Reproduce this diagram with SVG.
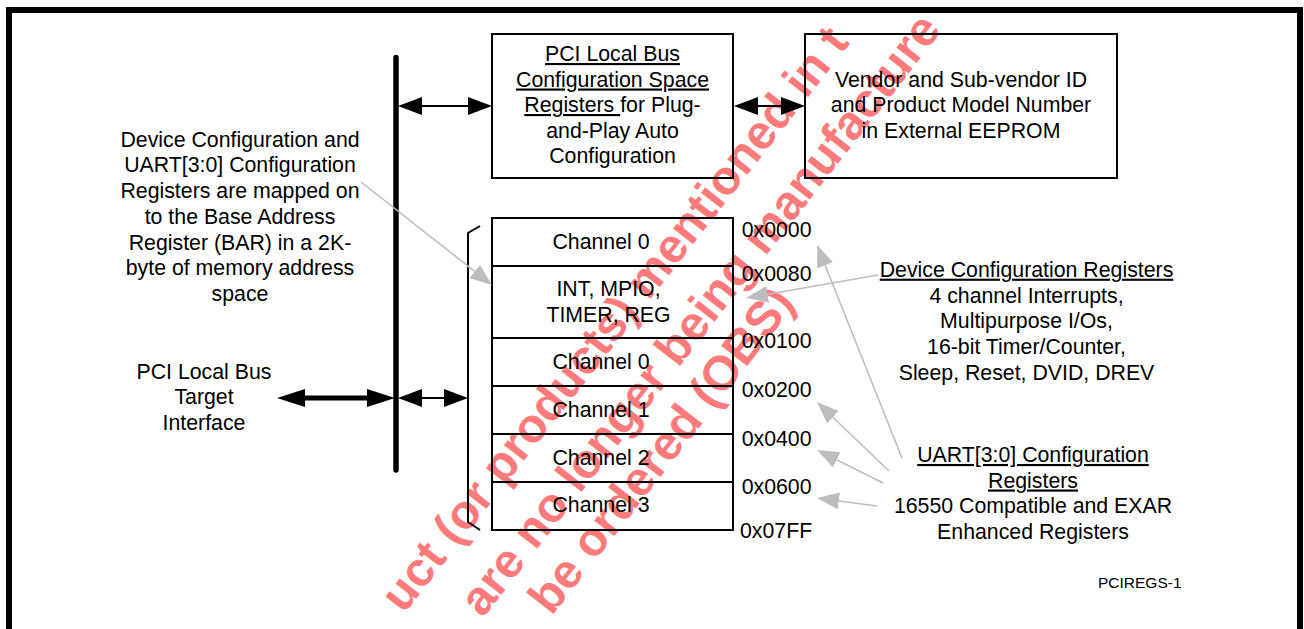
<svg xmlns="http://www.w3.org/2000/svg" width="1304" height="629" viewBox="0 0 1304 629">
<defs>
<style>
text{font-family:"Liberation Sans",Arial,sans-serif;font-size:21.3px;fill:#000}
.c{text-anchor:middle}
.u{text-decoration:underline}
.box{fill:none;stroke:#000;stroke-width:2}
.wm{font-weight:bold;font-size:48px;fill:#ff7b7b}
.blk{stroke:#000;stroke-width:2;fill:none}
.thk{stroke:#000;stroke-width:5;fill:none}
.gry{stroke:#bdbdbd;stroke-width:1.5;fill:none}
.small{font-size:15.5px}
</style>
<marker id="ah" markerUnits="userSpaceOnUse" orient="auto-start-reverse" markerWidth="24" markerHeight="18" viewBox="0 0 24 18" refX="0" refY="9"><path d="M0,0 L24,9 L0,18 z" fill="#000"/></marker>
<marker id="ahb" markerUnits="userSpaceOnUse" orient="auto-start-reverse" markerWidth="28" markerHeight="18" viewBox="0 0 28 18" refX="0" refY="9"><path d="M0,0 L28,9 L0,18 z" fill="#000"/></marker>
<marker id="gh" markerUnits="userSpaceOnUse" orient="auto" markerWidth="22" markerHeight="17" viewBox="0 0 22 17" refX="0" refY="8.5"><path d="M0,0 L22,8.5 L0,17 z" fill="#bdbdbd"/></marker>
</defs>
<rect width="1304" height="629" fill="#fff"/>
<g id="watermark">
<text class="wm" x="403.8" y="614.5" transform="rotate(-52 403.8 614.5)">uct (or products) mentioned in t</text>
<text class="wm" x="482.7" y="618.5" transform="rotate(-52 482.7 618.5)">are no longer being manufacture</text>
<text class="wm" x="551.5" y="616.4" transform="rotate(-52 551.5 616.4)">be ordered (OBS)</text>
</g>
<rect id="frame" x="9" y="10" width="1291" height="700" fill="none" stroke="#000" stroke-width="6"/>
<g id="bus">
<line x1="396" y1="57.5" x2="396" y2="470" stroke="#000" stroke-width="5.5" stroke-linecap="round"/>
</g>
<g id="pci-config">
<rect class="box" x="492" y="34" width="241" height="144"/>
<text class="c" x="612.5" y="61"><tspan class="u">PCI Local Bus</tspan></text>
<text class="c" x="612.5" y="86.5"><tspan class="u">Configuration Space</tspan></text>
<text class="c" x="612.5" y="112"><tspan class="u">Registers </tspan>for Plug-</text>
<text class="c" x="612.5" y="137.5">and-Play Auto</text>
<text class="c" x="612.5" y="163">Configuration</text>
</g>
<g id="vendor-eeprom">
<rect class="box" x="805" y="34" width="312" height="144"/>
<text class="c" x="961" y="86.5">Vendor and Sub-vendor ID</text>
<text class="c" x="961" y="112">and Product Model Number</text>
<text class="c" x="961" y="137.5">in External EEPROM</text>
</g>
<g id="bar-note">
<text class="c" x="240" y="146.7">Device Configuration and</text>
<text class="c" x="240" y="172.4">UART[3:0] Configuration</text>
<text class="c" x="240" y="198.1">Registers are mapped on</text>
<text class="c" x="240" y="223.8">to the Base Address</text>
<text class="c" x="240" y="249.5">Register (BAR) in a 2K-</text>
<text class="c" x="240" y="275.2">byte of memory address</text>
<text class="c" x="240" y="300.9">space</text>
</g>
<g id="pci-target">
<text class="c" x="204" y="378.7">PCI Local Bus</text>
<text class="c" x="204" y="404.4">Target</text>
<text class="c" x="204" y="430.1">Interface</text>
</g>
<g id="bracket">
<path class="blk" d="M480,226 L468,233 L468,522 L480,530"/>
</g>
<g id="reg-ch0-a"><rect class="box" x="492" y="218" width="241" height="48"/><text class="c" x="601" y="249.3">Channel 0</text></g>
<g id="reg-dev"><rect class="box" x="492" y="266" width="241" height="72"/><text class="c" x="608.5" y="295.7">INT, MPIO,</text><text class="c" x="608.5" y="321.7">TIMER, REG</text></g>
<g id="reg-ch0"><rect class="box" x="492" y="338" width="241" height="48"/><text class="c" x="601" y="369">Channel 0</text></g>
<g id="reg-ch1"><rect class="box" x="492" y="386" width="241" height="48"/><text class="c" x="601" y="416.7">Channel 1</text></g>
<g id="reg-ch2"><rect class="box" x="492" y="434" width="241" height="48"/><text class="c" x="601" y="465">Channel 2</text></g>
<g id="reg-ch3"><rect class="box" x="492" y="482" width="241" height="48"/><text class="c" x="601" y="512.3">Channel 3</text></g>
<g id="addresses">
<text x="741.7" y="236.7">0x0000</text>
<text x="741.7" y="281">0x0080</text>
<text x="741.7" y="348.3">0x0100</text>
<text x="741.7" y="397.3">0x0200</text>
<text x="741.7" y="445.7">0x0400</text>
<text x="741.7" y="494">0x0600</text>
<text x="740" y="538.3">0x07FF</text>
</g>
<g id="dev-cfg-regs">
<text class="c" x="1026.5" y="276.7"><tspan class="u">Device Configuration Registers</tspan></text>
<text class="c" x="1026.5" y="302.5">4 channel Interrupts,</text>
<text class="c" x="1026.5" y="328.3">Multipurpose I/Os,</text>
<text class="c" x="1026.5" y="354">16-bit Timer/Counter,</text>
<text class="c" x="1026.5" y="380">Sleep, Reset, DVID, DREV</text>
</g>
<g id="uart-cfg-regs">
<text class="c" x="1033" y="462"><tspan class="u">UART[3:0] Configuration</tspan></text>
<text class="c" x="1033" y="487.5"><tspan class="u">Registers</tspan></text>
<text class="c" x="1033" y="513">16550 Compatible and EXAR</text>
<text class="c" x="1033" y="538.5">Enhanced Registers</text>
</g>
<g id="fig-id">
<text class="small" x="1098" y="588">PCIREGS-1</text>
</g>
<g id="connectors">
<line class="blk" x1="422" y1="106" x2="468" y2="106" marker-start="url(#ah)" marker-end="url(#ah)"/>
<line class="blk" x1="758" y1="106" x2="781" y2="106" marker-start="url(#ah)" marker-end="url(#ah)"/>
<line class="blk" x1="422" y1="398" x2="444" y2="398" marker-start="url(#ah)" marker-end="url(#ah)"/>
<line class="thk" x1="305" y1="398" x2="367" y2="398" marker-start="url(#ahb)" marker-end="url(#ahb)"/>
<line class="gry" x1="361" y1="182" x2="474.7" y2="271.4" marker-end="url(#gh)"/>
<line class="gry" x1="878" y1="275" x2="767.7" y2="294.2" marker-end="url(#gh)"/>
<line class="gry" x1="902" y1="458" x2="825.2" y2="265.4" marker-end="url(#gh)"/>
<line class="gry" x1="889" y1="471" x2="832.9" y2="417.2" marker-end="url(#gh)"/>
<line class="gry" x1="883" y1="483" x2="836.7" y2="459.8" marker-end="url(#gh)"/>
<line class="gry" x1="877" y1="506" x2="838.8" y2="500.9" marker-end="url(#gh)"/>
</g>
</svg>
